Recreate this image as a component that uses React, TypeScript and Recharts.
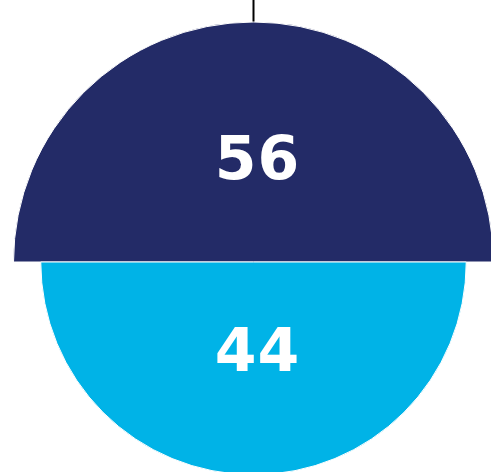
import { PieChart, Pie, Cell, Customized } from 'recharts';

const categories = ['Top', 'Bottom'];
const values = [56, 44];
const colors = ['#232B67', '#00B3E7'];

const W = 491;
const H = 472;
const CX = 253.5;
const CY = 262;
const R_MAX = 240;

function radiusFor(v) {
    // area-proportional half discs
    return R_MAX * Math.sqrt(v / Math.max(...values));
}

function renderLabel({ cx, cy, midAngle, outerRadius, value }) {
    const RAD = Math.PI / 180;
    const r = outerRadius * 0.425;
    const x = cx + r * Math.cos(-midAngle * RAD);
    const y = cy + r * Math.sin(-midAngle * RAD);
    return (<text x={x + 4} y={y - 2} fill="#ffffff" textAnchor="middle" dominantBaseline="central" style={{
            fontFamily: "'DejaVu Sans', sans-serif",
            fontWeight: 700,
            fontSize: 60,
            letterSpacing: 1,
        }}>
      {value}
    </text>);
}

function TopLine() {
    return <line x1={CX} y1={0} x2={CX} y2={CY - R_MAX} stroke="#000000" strokeWidth={2}/>;
}

export default function App() {
    const topData = [{ name: categories[0], value: values[0] }];
    const bottomData = [{ name: categories[1], value: values[1] }];
    return (<div style={{ position: 'absolute', left: 0, top: 0, width: W, height: H, background: '#fff' }}>
      <PieChart width={W} height={H} margin={{ top: 0, right: 0, bottom: 0, left: 0 }}>
        <Pie data={topData} dataKey="value" cx={CX} cy={CY} startAngle={0} endAngle={180} innerRadius={0} outerRadius={radiusFor(values[0])} stroke="#ffffff" strokeWidth={1} label={renderLabel} labelLine={false} isAnimationActive={false}>
          <Cell fill={colors[0]}/>
        </Pie>
        <Pie data={bottomData} dataKey="value" cx={CX} cy={CY} startAngle={180} endAngle={360} innerRadius={0} outerRadius={radiusFor(values[1])} stroke="#ffffff" strokeWidth={1} label={renderLabel} labelLine={false} isAnimationActive={false}>
          <Cell fill={colors[1]}/>
        </Pie>
        <Customized component={TopLine}/>
      </PieChart>
    </div>);
}
